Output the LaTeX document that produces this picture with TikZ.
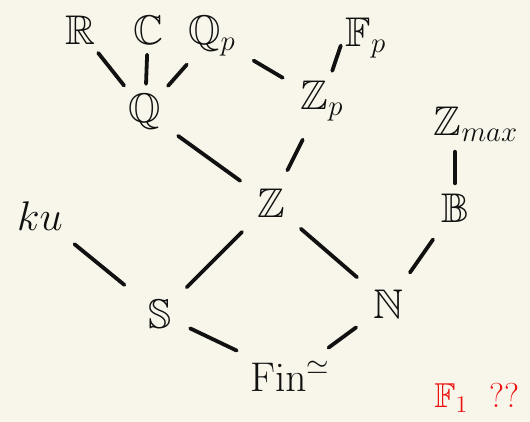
\documentclass[tikz,border=0pt]{standalone}
\usepackage{amssymb}
\usepackage{amsmath}
\usetikzlibrary{positioning}
\definecolor{Paper}{HTML}{F8F6EA}
\definecolor{Ink}{HTML}{111111}
\definecolor{Mark}{HTML}{EE1111}

\begin{document}
\begin{tikzpicture}[
  x=0.5pt,
  y=-0.5pt,
  obj/.style={
    text=Ink,
    font=\huge,
    inner sep=1pt
  },
  note/.style={
    obj,
    font=\LARGE,
    text=Mark,
    anchor=west
  },
  link/.style={draw=Ink,line width=1.9pt,line cap=round,shorten <=4pt,shorten >=4pt},
  farlink/.style={link,shorten <=9pt,shorten >=9pt}
]
  \useasboundingbox (0,0) rectangle (530,422);
  \fill[Paper] (0,0) rectangle (530,422);

  \node[obj] (R) at (80,30) {$\mathbb{R}$};
  \node[obj] (C) at (148,30) {$\mathbb{C}$};
  \node[obj] (Qp) at (212,36) {$\mathbb{Q}_p$};
  \node[obj] (Fp) at (366,38) {$\mathbb{F}_p$};
  \node[obj] (Q) at (145,112) {$\mathbb{Q}$};
  \node[obj] (Zp) at (322,101) {$\mathbb{Z}_p$};
  \node[obj] (Zmax) at (476,124) {$\mathbb{Z}_{max}$};
  \node[obj] (ku) at (40,216) {$ku$};
  \node[obj] (Z) at (271,203) {$\mathbb{Z}$};
  \node[obj] (B) at (455,208) {$\mathbb{B}$};
  \node[obj] (S) at (160,314) {$\mathbb{S}$};
  \node[obj] (N) at (388,304) {$\mathbb{N}$};
  \node[obj] (Fin) at (290,376) {$\mathrm{Fin}^{\simeq}$};
  \node[note] (F1) at (432,398) {$\mathbb{F}_1$\ \ ??};

  \draw[link] (R) -- (Q);
  \draw[link] (C) -- (Q);
  \draw[link] (Qp) -- (Q);
  \draw[farlink] (Qp) -- (Zp);
  \draw[link] (Fp.west) -- (Zp);
  \draw[farlink] (Q) -- (Z);
  \draw[farlink] (Zp) -- (Z);
  \draw[link] (B |- Zmax.south) -- (B);
  \draw[farlink,shorten >=14pt] (ku) -- (S);
  \draw[farlink] (Z) -- (S);
  \draw[farlink] (Z) -- (N);
  \draw[farlink] (B) -- (N);
  \draw[farlink] (S) -- (Fin);
  \draw[farlink] (N) -- (Fin);
\end{tikzpicture}
\end{document}
